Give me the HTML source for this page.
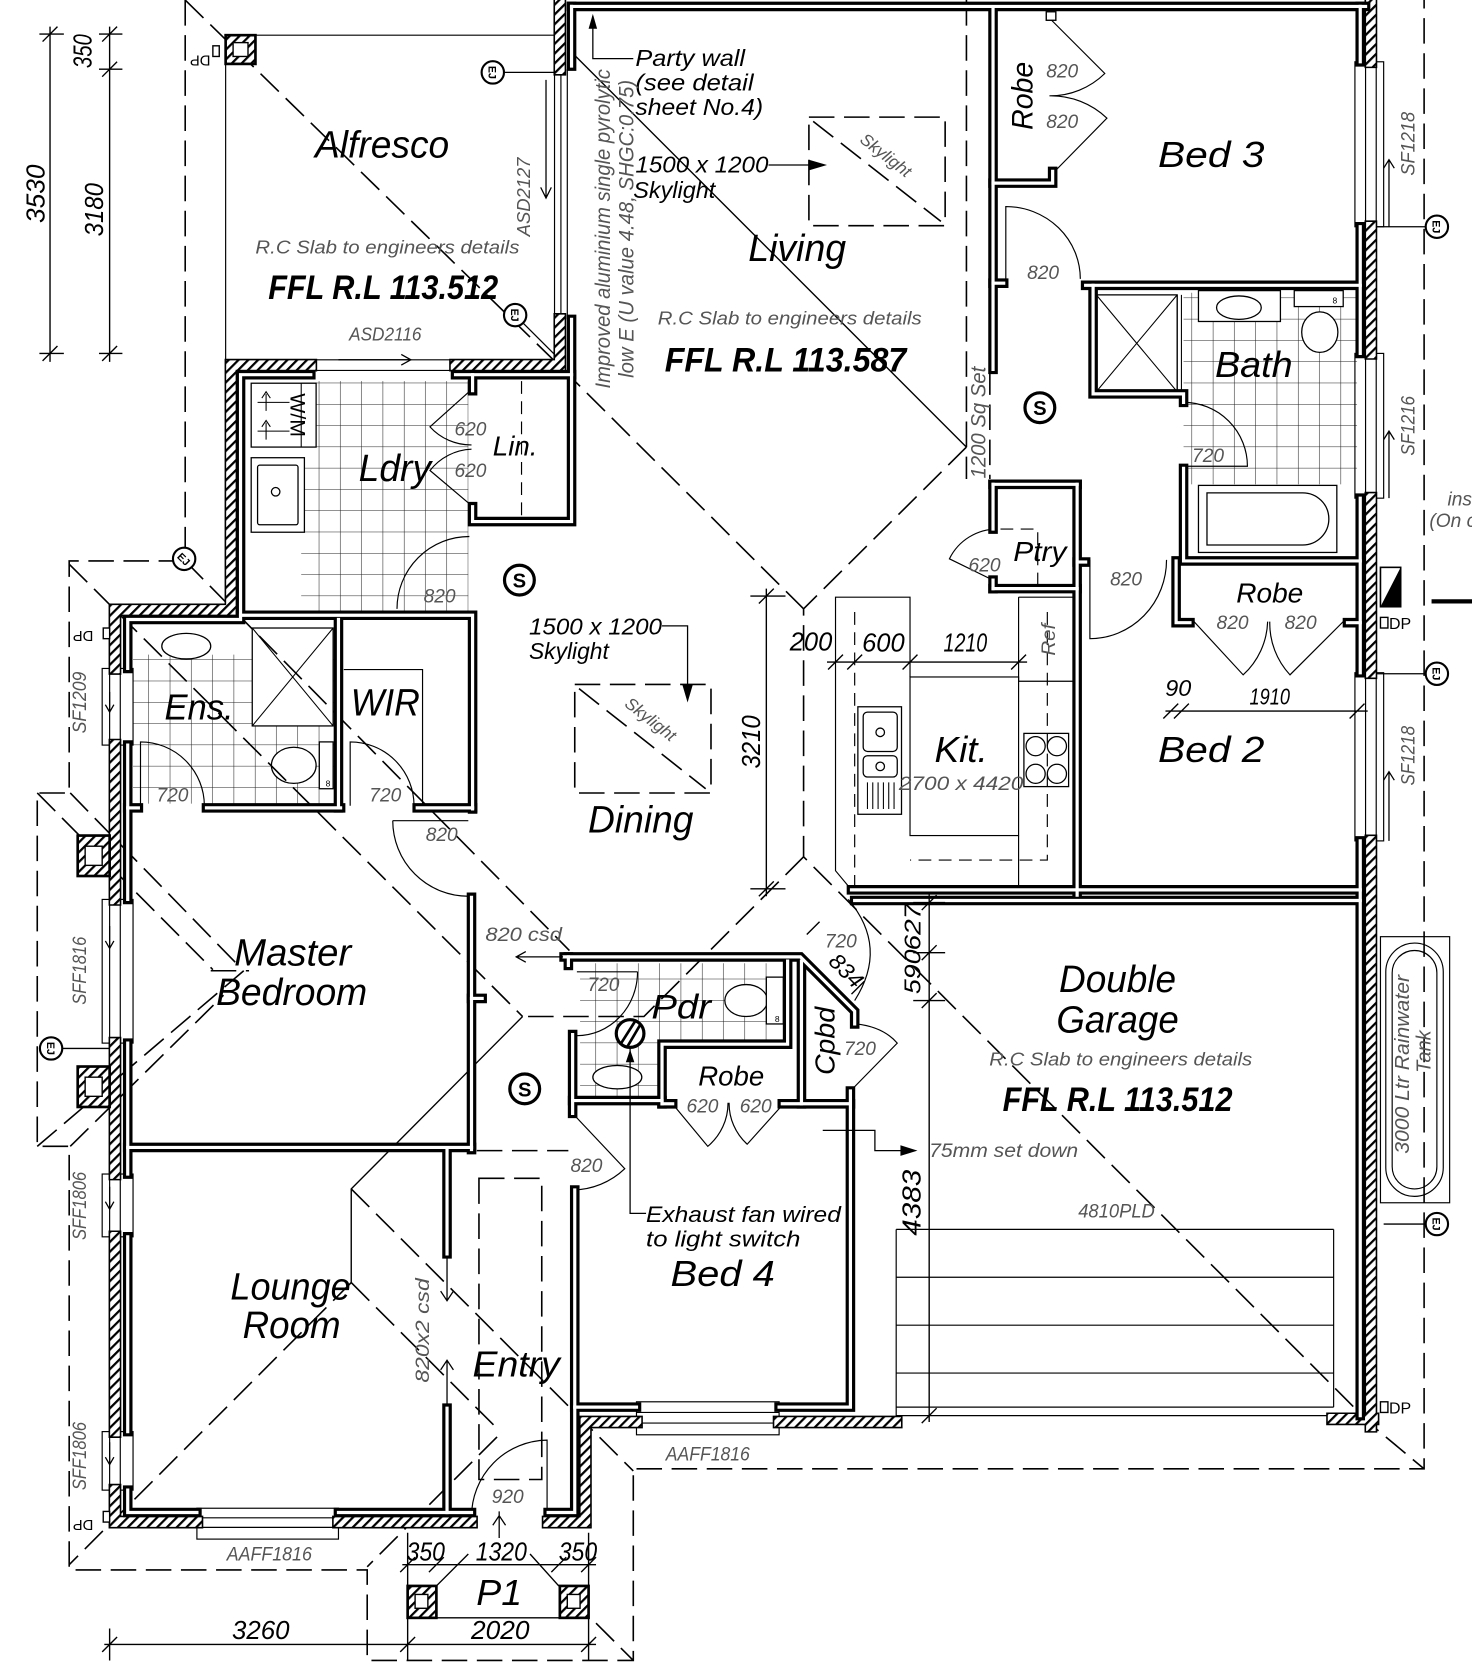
<!DOCTYPE html>
<html><head><meta charset="utf-8">
<style>
html,body{margin:0;padding:0;background:#fff;}
svg{display:block;}
text{font-family:"Liberation Sans",sans-serif;font-style:italic;fill:#000;}
.g{fill:#555;}
.b{font-weight:bold;}
.n{font-style:normal;}
</style></head><body>
<svg width="1472" height="1669" viewBox="0 0 1383 1568" xmlns="http://www.w3.org/2000/svg">
<defs>
<pattern id="h" width="6.5" height="6.5" patternUnits="userSpaceOnUse" patternTransform="rotate(45)"><rect width="6.5" height="6.5" fill="#fff"/><line x1="1" y1="0" x2="1" y2="6.5" stroke="#000" stroke-width="2.2"/></pattern>
<pattern id="t" width="20" height="20" patternUnits="userSpaceOnUse"><path d="M20 0V20M0 20H20" stroke="#222" stroke-width="1" fill="none"/></pattern>
<g id="iw" fill="none">
<path d="M120 628V582H226V352H292"/>
<path d="M428 352H537"/>
<path d="M537 6V62"/>
<path d="M537 300V490H444V476"/>
<path d="M444 352V367"/>
<path d="M226 578H444V760"/>
<path d="M392 759H444"/>
<path d="M194 759H320"/>
<path d="M318 582V759"/>
<path d="M120 759H130"/>
<path d="M120 700V845"/>
<path d="M120 980V1103"/>
<path d="M120 1162V1345"/>
<path d="M120 1400V1421H185"/>
<path d="M318 1421H443"/>
<path d="M420 1080V1178"/>
<path d="M420 1323V1421"/>
<path d="M443 843V1080"/>
<path d="M443 938H453"/>
<path d="M120 1078H443"/>
<path d="M515 1421H540V1118"/>
<path d="M540 1322H598"/>
<path d="M732 1322H799V1025"/>
<path d="M530 899H752L803 950V962"/>
<path d="M534 899V907"/>
<path d="M740 903V981H622V1037"/>
<path d="M538 972V1046"/>
<path d="M538 1034H622"/>
<path d="M753 903V1037H799"/>
<path d="M622 1037H632"/>
<path d="M735 1037H753"/>
<path d="M800 836H1278"/>
<path d="M803 846H1278"/>
<path d="M1012 455V841"/>
<path d="M1012 528H1020"/>
<path d="M933 455H1012"/>
<path d="M933 455V497"/>
<path d="M933 553H1012"/>
<path d="M933 545V553"/>
<path d="M933 8V347"/>
<path d="M933 172H989V161"/>
<path d="M933 266H943"/>
<path d="M1020 268H1278"/>
<path d="M1027 268V370H1112V378"/>
<path d="M1112 440V527H1278"/>
<path d="M1105 527V585H1118"/>
<path d="M1266 585H1278"/>
<path d="M1278 6V58"/>
<path d="M1278 213V332"/>
<path d="M1278 468V632"/>
<path d="M1278 790V1330"/>
<path d="M537 6H1283"/>
</g>
<g id="hw" fill="none">
<path d="M108 628V573H217V343H292"/>
<path d="M428 343H526V300"/>
<path d="M526 0V65"/>
<path d="M108 700V845"/>
<path d="M108 980V1103"/>
<path d="M108 1162V1345"/>
<path d="M108 1400V1430H185"/>
<path d="M318 1430H443"/>
<path d="M515 1430H550V1336H598"/>
<path d="M732 1336H842"/>
<path d="M1252 1333H1290"/>
<path d="M1288 1340V790"/>
<path d="M1288 632V468"/>
<path d="M1288 332V213"/>
<path d="M1288 58V0"/>
</g>
</defs>

<!-- tiles -->
<g>
<rect x="283" y="358" width="157" height="216" fill="url(#t)"/>
<rect x="125" y="615" width="190" height="140" fill="url(#t)"/>
<rect x="1112" y="275" width="163" height="180" fill="url(#t)"/>
<rect x="545" y="905" width="192" height="72" fill="url(#t)"/>
<rect x="545" y="977" width="73" height="55" fill="url(#t)"/>
</g>

<!-- fixtures -->
<g fill="#fff" stroke="#000" stroke-width="1.2">
<rect x="236" y="360" width="61" height="60"/>
<rect x="236" y="430" width="50" height="70"/>
<rect x="242" y="437" width="38" height="56" rx="2"/>
<circle cx="259" cy="462" r="4"/>
<rect x="237" y="590" width="76" height="92"/>
<rect x="150" y="590" width="60" height="25" stroke="none"/>
<ellipse cx="175" cy="607" rx="23" ry="12"/>
<ellipse cx="276" cy="719" rx="21" ry="17"/>
<rect x="300" y="697" width="13" height="44"/>
<rect x="1030" y="277" width="76" height="91"/>
<rect x="1126" y="273" width="77" height="29"/>
<ellipse cx="1164" cy="289" rx="21" ry="11"/>
<ellipse cx="1240" cy="312" rx="17" ry="19"/>
<rect x="1216" y="273" width="46" height="15"/>
<rect x="1126" y="456" width="130" height="63"/>
<path d="M1134 463H1224A24.5 24.5 0 0 1 1224 512H1134Z"/>
<ellipse cx="701" cy="940" rx="20" ry="15"/>
<rect x="720" y="918" width="16" height="44"/>
<ellipse cx="580" cy="1012" rx="23" ry="11"/>
<rect x="806" y="664" width="41" height="101"/>
<rect x="811" y="669" width="32" height="37" rx="4"/>
<rect x="811" y="710" width="32" height="20" rx="4"/>
<circle cx="827" cy="688" r="4"/>
<circle cx="827" cy="720" r="4"/>
<rect x="962" y="689" width="42" height="50"/>
<circle cx="973" cy="701" r="9"/><circle cx="993" cy="701" r="9"/>
<circle cx="973" cy="727" r="9"/><circle cx="993" cy="727" r="9"/>
</g>
<g fill="none" stroke="#000" stroke-width="1">
<path d="M237 590L313 682M313 590L237 682M1030 277L1106 368M1106 277L1030 368"/>
<path d="M1106 277V368M1110 277V368"/>
<path d="M815 735V760M820 735V760M825 735V760M830 735V760M835 735V760M840 735V760"/>
<path d="M283 360V420"/>
<path d="M242 378H272M242 405H272M250 370L250 386M250 397L250 413M246 374L250 368L254 374M246 401L250 395L254 401"/>
</g>
<text class="n" x="306" y="739" font-size="8">8</text>
<text class="n" x="728" y="960" font-size="8">8</text>
<text class="n" x="1252" y="285" font-size="8">8</text>

<!-- kitchen -->
<g fill="none" stroke="#000" stroke-width="1.1">
<path d="M855 636V561H785V818L800 836"/>
<rect x="855" y="636" width="102" height="149"/>
<path d="M957 561V640M957 561H1008M957 640H1008M957 785V836"/>
</g>
<path d="M803 575V833M984 575V808H855" fill="none" stroke="#000" stroke-width="1.1" stroke-dasharray="12 7"/>

<!-- garage door -->
<path d="M842 1155H1253M842 1200H1253M842 1245H1253M842 1290H1253M842 1322H1253M842 1330H1253M842 1155V1332M1253 1155V1322" fill="none" stroke="#000" stroke-width="1.1"/>

<!-- thin outlines -->
<g fill="none" stroke="#000" stroke-width="1.1">
<path d="M240 33H521M212 60V338"/>
<path d="M521 65V300M527 65V300M533 65V300"/>
<path d="M292 338H428M292 348H428"/>
<rect x="96" y="628" width="29" height="72"/><path d="M103 628V700M113 628V700"/>
<rect x="96" y="845" width="29" height="135"/><path d="M103 845V980M113 845V980"/>
<rect x="96" y="1103" width="29" height="59"/><path d="M103 1103V1162M113 1103V1162"/>
<rect x="96" y="1345" width="29" height="55"/><path d="M103 1345V1400M113 1345V1400"/>
<rect x="1273" y="58" width="27" height="155"/><path d="M1283 58V213M1293 58V213"/>
<rect x="1273" y="332" width="27" height="136"/><path d="M1283 332V468M1293 332V468"/>
<rect x="1273" y="632" width="27" height="158"/><path d="M1283 632V790M1293 632V790"/>
<rect x="185" y="1417" width="133" height="29"/><path d="M185 1426H318M185 1435H318"/>
<rect x="598" y="1317" width="134" height="31"/><path d="M598 1327H732M598 1337H732"/>
<rect x="1297" y="880" width="65" height="250"/>
<rect x="1302" y="886" width="54" height="238" rx="27"/>
<rect x="1308" y="893" width="42" height="224" rx="21"/>
<path d="M323 629H397V759"/>
</g>
<path d="M490 358V484M940 497H975V553" fill="none" stroke="#000" stroke-width="1.1" stroke-dasharray="12 7"/>

<!-- doors -->
<g fill="none" stroke="#000" stroke-width="1.1">
<path d="M441 504A68 68 0 0 0 373 572"/>
<path d="M443 366L404 401A52 52 0 0 0 443 418M443 475L404 442A52 52 0 0 1 443 422"/>
<path d="M132 757V697A60 60 0 0 1 192 757"/>
<path d="M329 757V697A60 60 0 0 1 389 757"/>
<path d="M369 771H440M369 771A71 71 0 0 0 440 842"/>
<path d="M945 262V194A70 68 0 0 1 1015 262"/>
<path d="M986 17L1038 69A73.5 73.5 0 0 1 986 90M986 166L1040 111A76 76 0 0 0 986 90"/>
<path d="M1112 378A60 60 0 0 1 1172 438H1112"/>
<path d="M1024 526V600A72 74 0 0 0 1096 526"/>
<path d="M1120 582L1168 634A71 71 0 0 0 1191 584M1264 582L1212 634A71 71 0 0 1 1193 584"/>
<path d="M937 497A50 50 0 0 0 892 525L937 547"/>
<path d="M599 913A57 60 0 0 1 542 973M542 913H599"/>
<path d="M631 1036L665 1077A53 53 0 0 0 684 1036M737 1036L702 1075A52 52 0 0 1 685 1036"/>
<path d="M799 1025L843 980Q830 965 805 962"/>
<path d="M797 845Q835 890 803 940"/>
<path d="M538 1046L587 1098A72 72 0 0 1 538 1118"/>
<path d="M443 1425A72 72 0 0 1 514 1353V1425"/>
</g>

<!-- roof lines -->
<g fill="none" stroke="#000" stroke-width="1.5" stroke-dasharray="24 9">
<path d="M174 0V527H65V745H35V1077H65V1475H345V1560H595V1380H1338V0"/>
<path d="M174 0L527 345L755 572"/>
<path d="M908 420L755 572V805L1290 1340L1338 1380"/>
<path d="M755 805L605 955H491"/>
<path d="M65 530L491 955"/>
<path d="M174 527L535 893"/>
<path d="M330 1117L595 1382"/>
<path d="M330 1205L467 1342"/>
<path d="M467 1350L345 1472"/>
<path d="M330 1205L65 1470"/>
<path d="M35 745L200 911M66 745L222 905M35 1077L229 912M66 1077L210 935M198 912H234"/>
<path d="M560 1525L595 1560"/>
<path d="M908 0V450M930 347V450"/>
<path d="M448 1081H534"/>
<rect x="450" y="1107" width="59" height="283"/>
<rect x="760" y="110" width="128" height="102"/>
<path d="M764 114L884 208"/>
<rect x="540" y="643" width="128" height="102"/>
<path d="M544 647L663 741"/>
</g>
<path d="M538 50L908 420M491 955L330 1117V1205" fill="none" stroke="#000" stroke-width="1.3"/>

<!-- walls -->
<use href="#hw" stroke="#000" stroke-width="12" stroke-linecap="square"/>
<use href="#hw" stroke="url(#h)" stroke-width="9" stroke-linecap="square"/>
<use href="#iw" stroke="#000" stroke-width="9" stroke-linecap="square"/>
<use href="#iw" stroke="#fff" stroke-width="3" stroke-linecap="square"/>

<!-- posts -->
<g stroke="#000" stroke-width="2.5">
<rect x="212" y="33" width="28" height="27" fill="url(#h)"/>
<rect x="73" y="785" width="30" height="38" fill="url(#h)"/>
<rect x="73" y="1002" width="30" height="38" fill="url(#h)"/>
<rect x="383" y="1490" width="27" height="30" fill="url(#h)"/>
<rect x="526" y="1490" width="27" height="30" fill="url(#h)"/>
</g>
<g fill="#fff" stroke="#000" stroke-width="1.3">
<rect x="219" y="40" width="14" height="13"/>
<rect x="80" y="795" width="16" height="18"/>
<rect x="80" y="1012" width="16" height="18"/>
<rect x="390" y="1498" width="12" height="13"/>
<rect x="533" y="1498" width="12" height="13"/>
<rect x="200" y="43" width="6" height="10"/>
<rect x="97" y="590" width="6" height="10"/>
<rect x="97" y="1420" width="6" height="10"/>
<rect x="1297" y="580" width="7" height="10"/>
<rect x="1297" y="1317" width="7" height="10"/>
<rect x="983" y="11" width="9" height="8"/>
</g>
<rect x="1297" y="533" width="19" height="37" fill="#fff" stroke="#000" stroke-width="1.5"/>
<polygon points="1316,533 1316,570 1297,570" fill="#000"/>
<path d="M1345 565H1383" stroke="#000" stroke-width="4"/>

<!-- dimensions -->
<g fill="none" stroke="#000" stroke-width="1.3">
<path d="M47 25V340M37 32H60M37 332H60M103 25V340M93 32H115M93 65H115M93 332H115"/>
<path d="M40 39L54 25M40 339L54 325M96 39L110 25M96 72L110 58M96 339L110 325"/>
<path d="M720 553V842M705 560H738M705 835H738M713 567L727 553M713 842L727 828"/>
<path d="M777 622H965M778 629L792 615M796 629L810 615M848 629L862 615M950 629L964 615"/>
<path d="M873 840V1336M858 848H888M858 895H888M858 940H888M866 855L880 841M866 902L880 888M866 947L880 933M866 1337L880 1323"/>
<path d="M1095 668H1285M1093 675L1107 661M1103 675L1117 661M1268 675L1282 661"/>
<path d="M98 1545H560M103 1530V1560M383 1440V1560M553 1440V1560M96 1552L110 1538M376 1552L390 1538M546 1552L560 1538"/>
<path d="M378 1470H560M376 1477L390 1463M403 1477L417 1463M518 1477L532 1463M546 1477L560 1463"/>
<path d="M383 1520H553"/>
<path d="M410 1490L440 1460M525 1490L498 1460"/>
<path d="M758 878L770 866M800 934L812 922"/>
</g>

<!-- arrows & leaders -->
<g fill="none" stroke="#000" stroke-width="1.2">
<path d="M557 15V55H595"/>
<path d="M513 75V185M508 176L513 186L518 176"/>
<path d="M318 338H385M377 333L386 338L377 343"/>
<path d="M722 155H762"/>
<path d="M622 588H646V645"/>
<path d="M486 899H529M494 894L485 899L494 904"/>
<path d="M773 1062H822V1081H848"/>
<path d="M592 985V1140H607"/>
<path d="M420 1180V1221M414 1213L420 1222L426 1213"/>
<path d="M420 1321V1279M414 1287L420 1278L426 1287"/>
<path d="M469 1420V1445M463 1433L469 1424L475 1433"/>
<path d="M1305 213V150M1300 158L1305 150L1310 158"/>
<path d="M1305 468V405M1300 413L1305 405L1310 413"/>
<path d="M1305 790V725M1300 733L1305 725L1310 733"/>
<path d="M103 650V668M99 662L103 669L107 662"/>
<path d="M103 870V890M99 884L103 891L107 884"/>
<path d="M103 1115V1135M99 1129L103 1136L107 1129"/>
<path d="M103 1355V1375M99 1369L103 1376L107 1369"/>
<path d="M474 68H521M491 303L521 333M59 985H103M1293 213H1340M1293 633H1340M1300 1150H1340"/>
</g>
<polygon points="553,27 557,13 561,27" fill="#000"/>
<polygon points="760,150 777,155 760,160" fill="#000"/>
<polygon points="641,643 646,660 651,643" fill="#000"/>
<polygon points="846,1076 862,1081 846,1086" fill="#000"/>
<polygon points="588,998 592,986 596,998" fill="#000"/>

<!-- symbols -->
<g fill="#fff" stroke="#000">
<circle cx="977" cy="383" r="14" stroke-width="3"/>
<circle cx="488" cy="545" r="14" stroke-width="3"/>
<circle cx="493" cy="1023" r="14" stroke-width="3"/>
<circle cx="592" cy="971" r="13" stroke-width="3"/>
<circle cx="463" cy="68" r="10.5" stroke-width="2"/>
<circle cx="484" cy="296" r="10.5" stroke-width="2"/>
<circle cx="173" cy="525" r="10.5" stroke-width="2"/>
<circle cx="48" cy="985" r="10.5" stroke-width="2"/>
<circle cx="1350" cy="213" r="10.5" stroke-width="2"/>
<circle cx="1350" cy="633" r="10.5" stroke-width="2"/>
<circle cx="1350" cy="1150" r="10.5" stroke-width="2"/>
</g>
<path d="M583 981L597 959M589 984L602 962" stroke="#000" stroke-width="2.5"/>
<text class="n b" x="977" y="390" text-anchor="middle" font-size="19">S</text>
<text class="n b" x="488" y="552" text-anchor="middle" font-size="19">S</text>
<text class="n b" x="493" y="1030" text-anchor="middle" font-size="19">S</text>
<g>
<text class="n b" transform="translate(463,68) rotate(90)" y="4" text-anchor="middle" font-size="10">EJ</text>
<text class="n b" transform="translate(484,296) rotate(90)" y="4" text-anchor="middle" font-size="10">EJ</text>
<text class="n b" transform="translate(173,525) rotate(45)" y="4" text-anchor="middle" font-size="10">EJ</text>
<text class="n b" transform="translate(48,985) rotate(90)" y="4" text-anchor="middle" font-size="10">EJ</text>
<text class="n b" transform="translate(1350,213) rotate(90)" y="4" text-anchor="middle" font-size="10">EJ</text>
<text class="n b" transform="translate(1350,633) rotate(90)" y="4" text-anchor="middle" font-size="10">EJ</text>
<text class="n b" transform="translate(1350,1150) rotate(90)" y="4" text-anchor="middle" font-size="10">EJ</text>
</g>

<!-- room labels -->
<g text-anchor="middle">
<text x="359" y="148" font-size="36" textLength="126" lengthAdjust="spacingAndGlyphs">Alfresco</text>
<text class="g" x="364" y="238" font-size="17" textLength="248" lengthAdjust="spacingAndGlyphs">R.C Slab to engineers details</text>
<text class="b" x="360" y="281" font-size="32" textLength="216" lengthAdjust="spacingAndGlyphs">FFL R.L 113.512</text>
<text class="g" x="362" y="320" font-size="17" textLength="68" lengthAdjust="spacingAndGlyphs">ASD2116</text>
<text x="749" y="245" font-size="36" textLength="92" lengthAdjust="spacingAndGlyphs">Living</text>
<text class="g" x="742" y="305" font-size="17" textLength="248" lengthAdjust="spacingAndGlyphs">R.C Slab to engineers details</text>
<text class="b" x="738" y="349" font-size="32" textLength="227" lengthAdjust="spacingAndGlyphs">FFL R.L 113.587</text>
<text x="1138" y="157" font-size="34" textLength="100" lengthAdjust="spacingAndGlyphs">Bed 3</text>
<text class="g" x="998" y="73" font-size="18">820</text>
<text class="g" x="998" y="120" font-size="18">820</text>
<text class="g" x="980" y="262" font-size="18">820</text>
<text x="1178" y="354" font-size="34" textLength="73" lengthAdjust="spacingAndGlyphs">Bath</text>
<text class="g" x="1135" y="434" font-size="18">720</text>
<text x="977" y="527" font-size="26" textLength="50" lengthAdjust="spacingAndGlyphs">Ptry</text>
<text class="g" x="925" y="537" font-size="18">620</text>
<text class="g" x="1058" y="550" font-size="18">820</text>
<text x="1193" y="566" font-size="26" textLength="63" lengthAdjust="spacingAndGlyphs">Robe</text>
<text class="g" x="1158" y="591" font-size="18">820</text>
<text class="g" x="1222" y="591" font-size="18">820</text>
<text x="1107" y="654" font-size="22">90</text>
<text x="1193" y="662" font-size="22" textLength="38" lengthAdjust="spacingAndGlyphs">1910</text>
<text x="1138" y="716" font-size="34" textLength="100" lengthAdjust="spacingAndGlyphs">Bed 2</text>
<text x="1050" y="932" font-size="36" textLength="110" lengthAdjust="spacingAndGlyphs">Double</text>
<text x="1050" y="970" font-size="36" textLength="115" lengthAdjust="spacingAndGlyphs">Garage</text>
<text class="g" x="1053" y="1001" font-size="17" textLength="247" lengthAdjust="spacingAndGlyphs">R.C Slab to engineers details</text>
<text class="b" x="1050" y="1044" font-size="32" textLength="216" lengthAdjust="spacingAndGlyphs">FFL R.L 113.512</text>
<text class="g" x="1049" y="1144" font-size="18" textLength="72" lengthAdjust="spacingAndGlyphs">4810PLD</text>
<text x="903" y="716" font-size="34" textLength="50" lengthAdjust="spacingAndGlyphs">Kit.</text>
<text class="g" x="903" y="742" font-size="18" textLength="117" lengthAdjust="spacingAndGlyphs">2700 x 4420</text>
<text x="762" y="611" font-size="24" textLength="40" lengthAdjust="spacingAndGlyphs">200</text>
<text x="830" y="612" font-size="24" textLength="40" lengthAdjust="spacingAndGlyphs">600</text>
<text x="907" y="612" font-size="24" textLength="41" lengthAdjust="spacingAndGlyphs">1210</text>
<text x="602" y="782" font-size="36" textLength="99" lengthAdjust="spacingAndGlyphs">Dining</text>
<text x="640" y="957" font-size="32" textLength="56" lengthAdjust="spacingAndGlyphs">Pdr</text>
<text class="g" x="567" y="931" font-size="18">720</text>
<text x="687" y="1020" font-size="26" textLength="62" lengthAdjust="spacingAndGlyphs">Robe</text>
<text class="g" x="660" y="1045" font-size="18">620</text>
<text class="g" x="710" y="1045" font-size="18">620</text>
<text class="g" x="790" y="890" font-size="18">720</text>
<text class="g" x="808" y="991" font-size="18">720</text>
<text x="679" y="1208" font-size="34" textLength="98" lengthAdjust="spacingAndGlyphs">Bed 4</text>
<text class="g" x="551" y="1101" font-size="18">820</text>
<text x="275" y="907" font-size="36" textLength="110" lengthAdjust="spacingAndGlyphs">Master</text>
<text x="274" y="944" font-size="36" textLength="142" lengthAdjust="spacingAndGlyphs">Bedroom</text>
<text class="g" x="492" y="884" font-size="18" textLength="72" lengthAdjust="spacingAndGlyphs">820 csd</text>
<text x="187" y="676" font-size="34" textLength="65" lengthAdjust="spacingAndGlyphs">Ens.</text>
<text x="362" y="672" font-size="36" textLength="65" lengthAdjust="spacingAndGlyphs">WIR</text>
<text class="g" x="162" y="753" font-size="18">720</text>
<text class="g" x="362" y="753" font-size="18">720</text>
<text class="g" x="415" y="790" font-size="18">820</text>
<text x="371" y="452" font-size="36" textLength="68" lengthAdjust="spacingAndGlyphs">Ldry</text>
<text x="484" y="428" font-size="26" textLength="42" lengthAdjust="spacingAndGlyphs">Lin.</text>
<text class="g" x="442" y="409" font-size="18">620</text>
<text class="g" x="442" y="448" font-size="18">620</text>
<text class="g" x="413" y="566" font-size="18">820</text>
<text x="273" y="1221" font-size="36" textLength="113" lengthAdjust="spacingAndGlyphs">Lounge</text>
<text x="274" y="1257" font-size="36" textLength="92" lengthAdjust="spacingAndGlyphs">Room</text>
<text x="485" y="1293" font-size="34" textLength="82" lengthAdjust="spacingAndGlyphs">Entry</text>
<text class="g" x="477" y="1412" font-size="18">920</text>
<text class="g" x="253" y="1466" font-size="18" textLength="80" lengthAdjust="spacingAndGlyphs">AAFF1816</text>
<text class="g" x="665" y="1372" font-size="18" textLength="79" lengthAdjust="spacingAndGlyphs">AAFF1816</text>
<text x="400" y="1466" font-size="24" textLength="36" lengthAdjust="spacingAndGlyphs">350</text>
<text x="471" y="1466" font-size="24" textLength="48" lengthAdjust="spacingAndGlyphs">1320</text>
<text x="543" y="1466" font-size="24" textLength="36" lengthAdjust="spacingAndGlyphs">350</text>
<text x="469" y="1508" font-size="34" textLength="43" lengthAdjust="spacingAndGlyphs">P1</text>
<text x="245" y="1540" font-size="24" textLength="54" lengthAdjust="spacingAndGlyphs">3260</text>
<text x="470" y="1540" font-size="24" textLength="55" lengthAdjust="spacingAndGlyphs">2020</text>
</g>

<!-- left-anchored texts -->
<g>
<text x="597" y="62" font-size="22" textLength="103" lengthAdjust="spacingAndGlyphs">Party wall</text>
<text x="597" y="85" font-size="22" textLength="111" lengthAdjust="spacingAndGlyphs">(see detail</text>
<text x="597" y="108" font-size="22" textLength="120" lengthAdjust="spacingAndGlyphs">sheet No.4)</text>
<text x="597" y="162" font-size="22" textLength="125" lengthAdjust="spacingAndGlyphs">1500 x 1200</text>
<text x="595" y="186" font-size="22" textLength="77" lengthAdjust="spacingAndGlyphs">Skylight</text>
<text x="497" y="596" font-size="22" textLength="125" lengthAdjust="spacingAndGlyphs">1500 x 1200</text>
<text x="497" y="619" font-size="22" textLength="75" lengthAdjust="spacingAndGlyphs">Skylight</text>
<text x="607" y="1148" font-size="21" textLength="183" lengthAdjust="spacingAndGlyphs">Exhaust fan wired</text>
<text x="607" y="1171" font-size="21" textLength="145" lengthAdjust="spacingAndGlyphs">to light switch</text>
<text class="g" x="873" y="1087" font-size="18" textLength="140" lengthAdjust="spacingAndGlyphs">75mm set down</text>
<text class="g" x="1360" y="475" font-size="18">ins</text>
<text class="g" x="1343" y="495" font-size="18">(On c</text>
<text class="n" x="1305" y="591" font-size="15">DP</text>
<text class="n" x="1305" y="1328" font-size="15">DP</text>
</g>

<!-- rotated texts -->
<g text-anchor="middle">
<text class="g" transform="translate(492,185) rotate(-90)" y="6" font-size="17" textLength="74" lengthAdjust="spacingAndGlyphs">ASD2127</text>
<text class="g" transform="translate(566,215) rotate(-90)" y="7" font-size="20" textLength="300" lengthAdjust="spacingAndGlyphs">Improved aluminium single pyrolytic</text>
<text class="g" transform="translate(588,215) rotate(-90)" y="7" font-size="20" textLength="280" lengthAdjust="spacingAndGlyphs">low E (U value 4.48, SHGC:0.75)</text>
<text class="g" transform="translate(919,397) rotate(-90)" y="7" font-size="20" textLength="105" lengthAdjust="spacingAndGlyphs">1200 Sq Set</text>
<text transform="translate(961,90) rotate(-90)" y="9" font-size="28" textLength="64" lengthAdjust="spacingAndGlyphs">Robe</text>
<text class="g" transform="translate(1323,135) rotate(-90)" y="6" font-size="18" textLength="60" lengthAdjust="spacingAndGlyphs">SF1218</text>
<text class="g" transform="translate(1323,400) rotate(-90)" y="6" font-size="18" textLength="56" lengthAdjust="spacingAndGlyphs">SF1216</text>
<text class="g" transform="translate(1323,710) rotate(-90)" y="6" font-size="18" textLength="56" lengthAdjust="spacingAndGlyphs">SF1218</text>
<text class="g" transform="translate(1318,1000) rotate(-90)" y="6" font-size="19" textLength="168" lengthAdjust="spacingAndGlyphs">3000 Ltr Rainwater</text>
<text class="g" transform="translate(1338,988) rotate(-90)" y="6" font-size="19" textLength="40" lengthAdjust="spacingAndGlyphs">Tank</text>
<text transform="translate(857,1130) rotate(-90)" y="8" font-size="24" textLength="62" lengthAdjust="spacingAndGlyphs">4383</text>
<text transform="translate(857,871) rotate(-90)" y="8" font-size="22" textLength="44" lengthAdjust="spacingAndGlyphs">627</text>
<text transform="translate(857,913) rotate(-90)" y="8" font-size="22" textLength="42" lengthAdjust="spacingAndGlyphs">590</text>
<text class="g" transform="translate(985,601) rotate(-90)" y="6" font-size="18" textLength="30" lengthAdjust="spacingAndGlyphs">Ref</text>
<text transform="translate(706,697) rotate(-90)" y="8" font-size="24" textLength="50" lengthAdjust="spacingAndGlyphs">3210</text>
<text transform="translate(775,978) rotate(-90)" y="9" font-size="26" textLength="64" lengthAdjust="spacingAndGlyphs">Cpbd</text>
<text transform="translate(795,912) rotate(45)" y="7" font-size="21" textLength="36" lengthAdjust="spacingAndGlyphs">834</text>
<text class="g" transform="translate(397,1250) rotate(-90)" y="6" font-size="18" textLength="98" lengthAdjust="spacingAndGlyphs">820x2 csd</text>
<text class="n" transform="translate(280,390) rotate(90)" y="7" font-size="20">W/M</text>
<text class="g" transform="translate(75,660) rotate(-90)" y="6" font-size="18" textLength="58" lengthAdjust="spacingAndGlyphs">SF1209</text>
<text class="g" transform="translate(75,912) rotate(-90)" y="6" font-size="18" textLength="64" lengthAdjust="spacingAndGlyphs">SFF1816</text>
<text class="g" transform="translate(75,1133) rotate(-90)" y="6" font-size="18" textLength="64" lengthAdjust="spacingAndGlyphs">SFF1806</text>
<text class="g" transform="translate(75,1368) rotate(-90)" y="6" font-size="18" textLength="64" lengthAdjust="spacingAndGlyphs">SFF1806</text>
<text transform="translate(34,182) rotate(-90)" y="8" font-size="24" textLength="55" lengthAdjust="spacingAndGlyphs">3530</text>
<text transform="translate(89,197) rotate(-90)" y="8" font-size="24" textLength="50" lengthAdjust="spacingAndGlyphs">3180</text>
<text transform="translate(78,48) rotate(-90)" y="8" font-size="24" textLength="32" lengthAdjust="spacingAndGlyphs">350</text>
<text class="n" transform="translate(78,598) rotate(180)" y="5" font-size="14">DP</text>
<text class="n" transform="translate(78,1433) rotate(180)" y="5" font-size="14">DP</text>
<text class="n" transform="translate(188,57) rotate(180)" y="5" font-size="14">DP</text>
<text class="g" transform="translate(829,150) rotate(38)" y="0" font-size="16">Skylight</text>
<text class="g" transform="translate(608,680) rotate(38)" y="0" font-size="16">Skylight</text>
</g>
</svg>
</body></html>
